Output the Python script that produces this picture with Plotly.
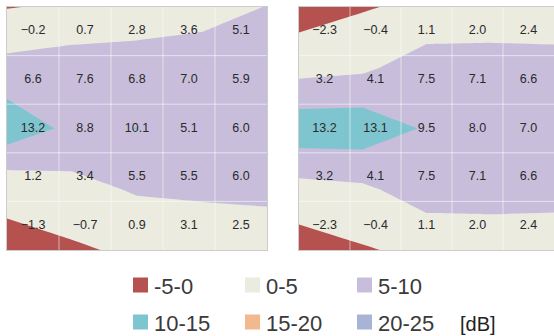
import numpy as np
import plotly.graph_objects as go

# ---- data ----
left_values = [
    [-0.2, 0.7, 2.8, 3.6, 5.1],
    [6.6, 7.6, 6.8, 7.0, 5.9],
    [13.2, 8.8, 10.1, 5.1, 6.0],
    [1.2, 3.4, 5.5, 5.5, 6.0],
    [-1.3, -0.7, 0.9, 3.1, 2.5],
]
right_values = [
    [-2.3, -0.4, 1.1, 2.0, 2.4],
    [3.2, 4.1, 7.5, 7.1, 6.6],
    [13.2, 13.1, 9.5, 8.0, 7.0],
    [3.2, 4.1, 7.5, 7.1, 6.6],
    [-2.3, -0.4, 1.1, 2.0, 2.4],
]
band_labels = ["-5-0", "0-5", "5-10", "10-15", "15-20", "20-25"]
band_colors = ["#b5524f", "#ebebe0", "#c8bedb", "#7fc5cf", "#f2b88e", "#a8b4d6"]
unit_label = "[dB]"

# ---- styling ----
W, H = 554, 336
n = 5
grid_pos = np.linspace(0, n, n)          # contour nodes span full panel
centers = np.arange(n) + 0.5             # label positions (cell centres)

# stepped colour scale (levels 0,5,10,15,20 -> 6 bands at fractions 0..1)
cs = []
k = len(band_colors)
for i, c in enumerate(band_colors):
    f = i / (k - 1)
    lo = max(0, f - 0.5 / (k - 1))
    hi = min(1, f + 0.5 / (k - 1))
    cs.append([lo, c])
    cs.append([hi, c])

def fmt(v):
    return f"{v:.1f}".replace("-", "\u2212")

fig = go.Figure()
panels = [(left_values, "x", "y"), (right_values, "x2", "y2")]
for vals, xa, ya in panels:
    fig.add_trace(go.Contour(
        z=vals, x=grid_pos, y=grid_pos,
        xaxis=xa, yaxis=ya,
        autocontour=False,
        contours=dict(start=0, end=20, size=5, coloring="fill", showlines=False),
        colorscale=cs, showscale=False,
        line=dict(width=0, smoothing=0),
        hoverinfo="skip",
    ))
    tx, ty, tt = [], [], []
    for r in range(n):
        for c in range(n):
            tx.append(centers[c]); ty.append(centers[r]); tt.append(fmt(vals[r][c]))
    fig.add_trace(go.Scatter(
        x=tx, y=ty, text=tt, mode="text", xaxis=xa, yaxis=ya,
        textfont=dict(family="Liberation Sans, Arial", size=12.5, color="#2a2a2a"),
        hoverinfo="skip", showlegend=False,
    ))
    # cell grid lines above the fills
    for g in range(1, n):
        fig.add_shape(type="line", xref=xa, yref=ya, x0=g, x1=g, y0=0, y1=n,
                      line=dict(color="rgba(255,255,255,0.55)", width=1), layer="above")
        fig.add_shape(type="line", xref=xa, yref=ya, x0=0, x1=n, y0=g, y1=g,
                      line=dict(color="rgba(255,255,255,0.55)", width=1), layer="above")

y_dom = [(H - 250) / H, (H - 7) / H]
ax_common = dict(range=[0, n], showgrid=False, zeroline=False, showticklabels=False,
                 ticks="", showline=True, mirror=True, linecolor="#cccccc", linewidth=1)
fig.update_layout(
    width=W, height=H,
    margin=dict(l=0, r=0, t=0, b=0),
    paper_bgcolor="white", plot_bgcolor=band_colors[1],
    showlegend=False,
    xaxis=dict(domain=[7 / W, 267 / W], **ax_common),
    yaxis=dict(domain=y_dom, autorange=False, **{**ax_common, "range": [n, 0]}),
    xaxis2=dict(domain=[299 / W, 1.0], anchor="y2", **ax_common),
    yaxis2=dict(domain=y_dom, anchor="x2", **{**ax_common, "range": [n, 0]}),
)

# ---- manual legend (3 columns x 2 rows) ----
col_x = [133, 245, 357]
row_y = [285, 322]
sw = 15
for i, (lab, col) in enumerate(zip(band_labels, band_colors)):
    cx = col_x[i % 3]
    cy = row_y[i // 3]
    fig.add_shape(type="rect", xref="paper", yref="paper",
                  x0=cx / W, x1=(cx + sw) / W,
                  y0=(H - cy - sw / 2) / H, y1=(H - cy + sw / 2) / H,
                  fillcolor=col, line=dict(width=0))
    fig.add_annotation(xref="paper", yref="paper", x=(cx + sw + 4) / W, y=(H - cy - 1) / H,
                       text=lab, showarrow=False, xanchor="left", yanchor="middle",
                       font=dict(family="Liberation Sans, Arial", size=22, color="#3a3a3a"))
fig.add_annotation(xref="paper", yref="paper", x=458 / W, y=(H - 324) / H,
                   text=unit_label, showarrow=False, xanchor="left", yanchor="middle",
                   font=dict(family="Liberation Sans, Arial", size=20, color="#222222"))

fig.write_html("out.html", config={"displayModeBar": False},
               post_script="document.body.style.margin='0px';document.body.style.overflow='hidden';")
